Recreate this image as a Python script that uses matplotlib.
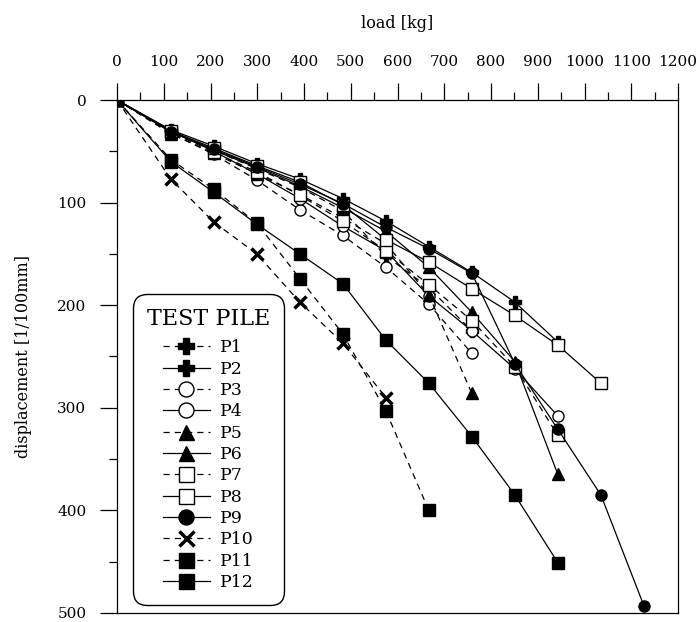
import matplotlib.pyplot as plt
from matplotlib.ticker import MultipleLocator

plt.rcParams['font.family'] = ['DejaVu Serif']

# load steps [kg]
loads = [0, 115, 207, 299, 391, 483, 575, 667, 759, 851, 943, 1035, 1127]

# displacement [1/100mm] per test pile
p1 = [0, 30, 49, 67, 85, 108, 152, 183, 225]
p2 = [0, 29, 45, 62, 77, 96, 118, 143, 168, 197, 236]
p3 = [0, 32, 53, 78, 107, 132, 163, 199, 247]
p4 = [0, 30, 50, 72, 96, 123, 147, 191, 225, 262, 308]
p5 = [0, 33, 52, 72, 92, 115, 140, 190, 286]
p6 = [0, 31, 49, 66, 84, 105, 128, 163, 207, 255, 365]
p7 = [0, 31, 51, 70, 93, 118, 147, 180, 215, 260, 327]
p8 = [0, 30, 47, 64, 80, 102, 136, 158, 184, 210, 239, 276]
p9 = [0, 31, 48, 65, 82, 101, 124, 145, 169, 257, 321, 385, 493]
p10 = [0, 77, 119, 150, 197, 237, 290]
p11 = [0, 58, 87, 120, 174, 228, 303, 400]
p12 = [0, 60, 90, 121, 150, 179, 234, 276, 328, 385, 451]

names = ['P1', 'P2', 'P3', 'P4', 'P5', 'P6', 'P7', 'P8', 'P9', 'P10', 'P11', 'P12']
series = [p1, p2, p3, p4, p5, p6, p7, p8, p9, p10, p11, p12]

dash = (0, (5, 4))
styles = [
  dict(ls=dash, marker='P', mfc='k', ms=9),
  dict(ls='-', marker='P', mfc='k', ms=9),
  dict(ls=dash, marker='o', mfc='w', ms=8),
  dict(ls='-', marker='o', mfc='w', ms=8),
  dict(ls=dash, marker='^', mfc='k', ms=8),
  dict(ls='-', marker='^', mfc='k', ms=8),
  dict(ls=dash, marker='s', mfc='w', ms=8),
  dict(ls='-', marker='s', mfc='w', ms=8),
  dict(ls='-', marker='o', mfc='k', ms=8),
  dict(ls=dash, marker='x', mfc='k', ms=8, mew=2.5),
  dict(ls=dash, marker='s', mfc='k', ms=8),
  dict(ls='-', marker='s', mfc='k', ms=8),
]

fig = plt.figure(figsize=(6.99, 6.22), dpi=100)
ax = fig.add_axes([0.1674, 0.0145, 0.8026, 0.8247])

for name, vals, st in zip(names, series, styles):
  st = dict(st)
  mew = st.pop('mew', 1.0)
  ax.plot(loads[:len(vals)], vals, color='k', lw=0.9, mec='k', mew=mew,
          label=name, **st)

ax.set_xlim(0, 1200)
ax.set_ylim(500, 0)
ax.xaxis.set_major_locator(MultipleLocator(100))
ax.xaxis.set_minor_locator(MultipleLocator(50))
ax.yaxis.set_major_locator(MultipleLocator(100))
ax.yaxis.set_minor_locator(MultipleLocator(50))
ax.xaxis.tick_top()
ax.xaxis.set_label_position('top')
ax.tick_params(which='major', direction='out', length=12, width=0.9, labelsize=11, pad=10)
ax.tick_params(which='minor', direction='out', length=5.5, width=0.9)
ax.tick_params(axis='y', which='both', right=False)
ax.tick_params(axis='x', which='both', bottom=False)
for s in ax.spines.values():
  s.set_linewidth(0.9)

ax.set_xlabel('load [kg]', fontsize=11.5, labelpad=20)
ax.set_ylabel('displacement [1/100mm]', fontsize=11.5, labelpad=18)

leg = ax.legend(title='TEST PILE', loc='lower left', bbox_to_anchor=(0.0285, 0.0156),
                borderaxespad=0, fontsize=12.5, title_fontsize=16, labelspacing=0.25,
                handlelength=2.7, handletextpad=0.6, borderpad=0.8, markerscale=1.35,
                fancybox=True, framealpha=1, edgecolor='k')
leg._legend_box.sep = 7  # a bit more room under the title
leg.get_frame().set_linewidth(1.0)
leg.get_frame().set_boxstyle('round,pad=0,rounding_size=0.8')

fig.savefig('out.png', dpi=100)
